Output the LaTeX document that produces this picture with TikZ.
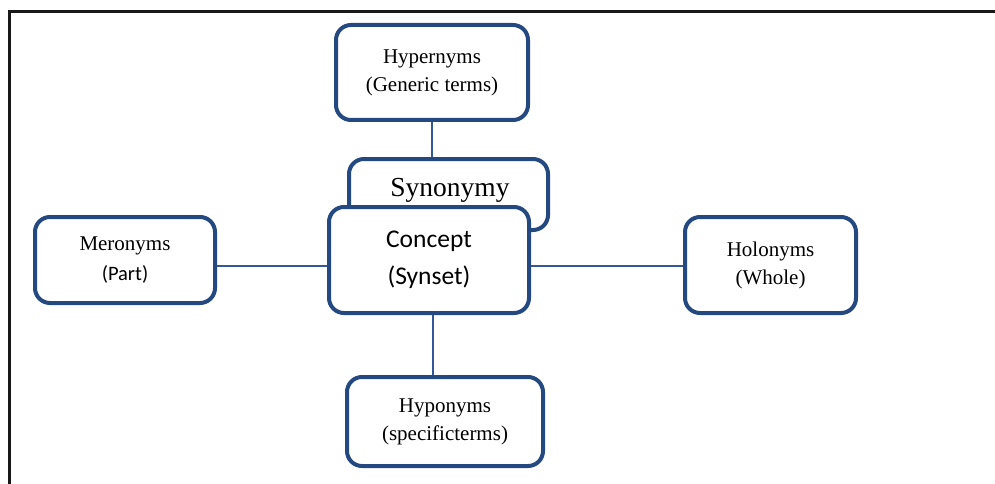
\documentclass[tikz,border=0pt]{standalone}
\usepackage{fontspec}
\setmainfont{Liberation Serif}
\newfontfamily\calibrifont{Carlito}
\definecolor{boxblue}{RGB}{36,72,128}
\definecolor{linkblue}{RGB}{52,88,150}
\begin{document}
\begin{tikzpicture}[x=1pt,y=-1pt,
  termbox/.style={draw=boxblue, line width=4pt, rounded corners=15pt, fill=white,
    inner sep=0pt, align=center},
  link/.style={draw=linkblue, line width=1.4pt},
  frameline/.style={draw=black!90, line width=2.4pt},
  serifterm/.style={font=\fontsize{21}{28}\selectfont},
]
\useasboundingbox (0,0) rectangle (995,484);
% outer frame (top and left edges)
\coordinate (fl) at (9.5,484);
\coordinate (ftl) at (9.5,11.5);
\coordinate (ftr) at (995,11.5);
\draw[frameline] (fl) -- (ftl) -- (ftr);

% surrounding terms
\node[termbox, serifterm, minimum width=192pt, minimum height=95pt] (hyper) at (432,72.5)
  {Hypernyms\\(Generic terms)};
\node[termbox, minimum width=199pt, minimum height=71pt] (syn) at (448.5,194.5) {};
\node[font=\fontsize{27.5}{33}\selectfont, inner sep=0pt] (syntext) at (450,190) {Synonymy};
\node[termbox, minimum width=200pt, minimum height=106pt,
  font=\calibrifont\fontsize{25.5}{37}\selectfont] (concept) at (429,260)
  {Concept\\(Synset)};
\node[termbox, minimum width=180pt, minimum height=86pt,
  font=\fontsize{21}{30}\selectfont] (mero) at (125,260)
  {Meronyms\\{\calibrifont\fontsize{20.5}{30}\selectfont (Part)}};
\node[termbox, serifterm, minimum width=171pt, minimum height=96pt] (holo) at (770.5,265)
  {Holonyms\\(Whole)};
\node[termbox, serifterm, minimum width=196pt, minimum height=89pt] (hypo) at (445,421.5)
  {Hyponyms\\(specificterms)};

% connectors
\draw[link] (hyper.south) -- (hyper.south |- syn.north);
\draw[link] ([xshift=4pt]concept.south) -- ([xshift=4pt]concept.south |- hypo.north);
\draw[link] ([yshift=-6pt]concept.west) -- ([yshift=-6pt]concept.west -| mero.east);
\draw[link] ([yshift=-6pt]concept.east) -- ([yshift=-6pt]concept.east -| holo.west);
\end{tikzpicture}
\end{document}
